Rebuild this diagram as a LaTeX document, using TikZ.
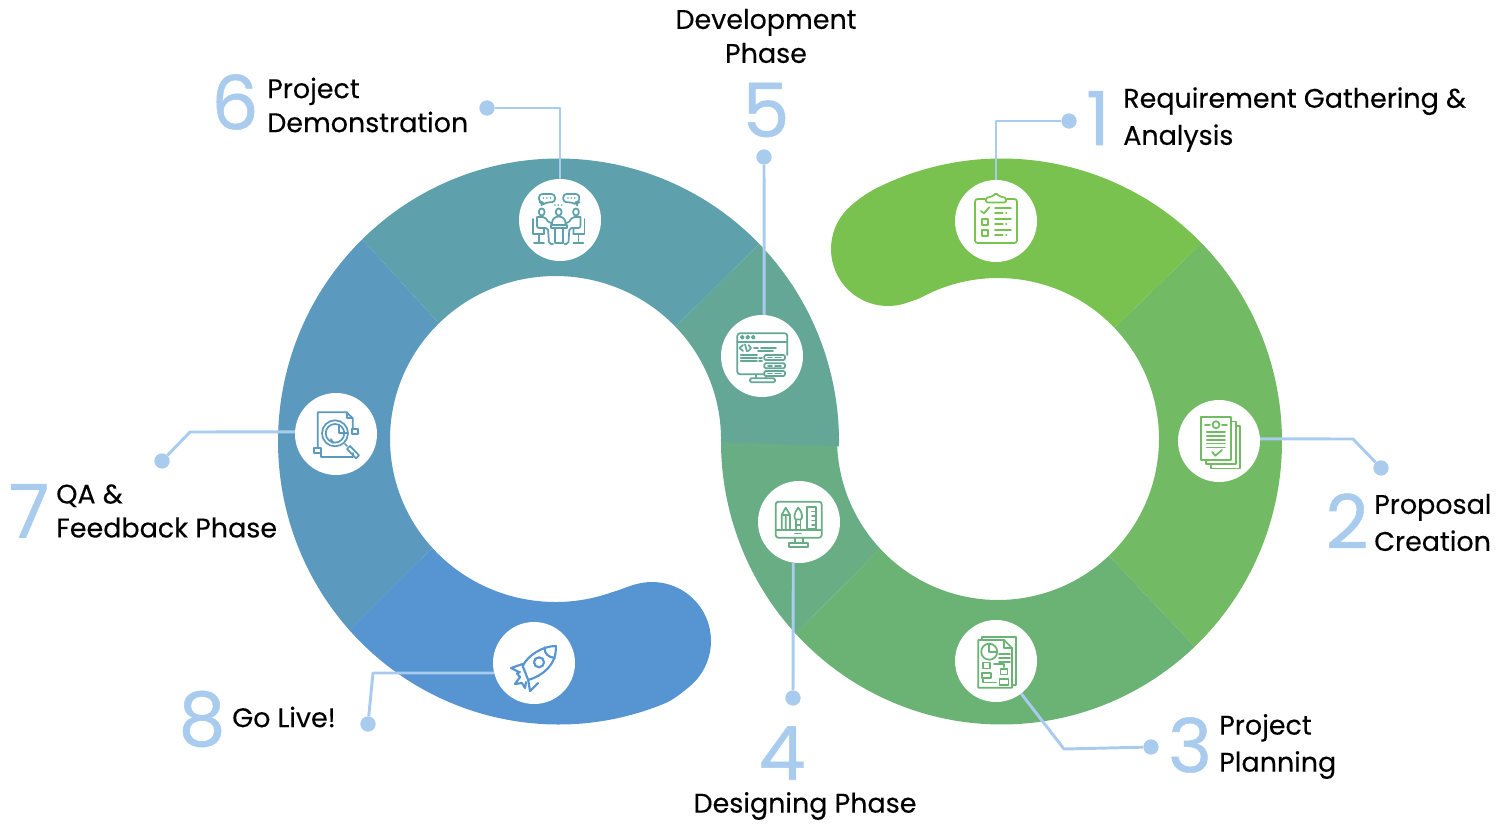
\documentclass[tikz,border=0pt]{standalone}
\usepackage{fontspec}
\setmainfont[FakeBold=0.25]{Poppins}
\newfontfamily\numfont[FakeBold=0.7]{Poppins}
\usetikzlibrary{positioning}
\definecolor{seg1}{HTML}{79C24F}
\definecolor{seg2}{HTML}{72BA64}
\definecolor{seg3}{HTML}{6BB374}
\definecolor{seg4}{HTML}{68AD84}
\definecolor{seg5}{HTML}{65A797}
\definecolor{seg6}{HTML}{5EA1AC}
\definecolor{seg7}{HTML}{5B9ABE}
\definecolor{seg8}{HTML}{5695D2}
\definecolor{linkblue}{HTML}{A9CCEE}
\tikzset{
    bubble/.style={circle, fill=white, minimum size=61.5pt, inner sep=0pt},
    dotend/.style={circle, fill=linkblue, minimum size=11.5pt, inner sep=0pt},
    link/.style={draw=linkblue, line width=2.2pt, line join=round},
    bignum/.style={text=linkblue, inner sep=0pt, font=\numfont\fontsize{56}{56}\selectfont},
    caption/.style={inner sep=0pt, anchor=west, align=left, font=\fontsize{20.2}{27.8}\selectfont},
    captionb/.style={caption, font=\fontsize{20.2}{25.5}\selectfont},
    ico/.style={line width=1.3pt, line join=round, line cap=round}
}
\begin{document}
\begin{tikzpicture}[x=0.75pt, y=0.75pt]
    \useasboundingbox (0,0) rectangle (1512,-824);
    % right ring
    \foreach \col/\a/\b/\c/\d in {seg2/44.5/-46.5/-46.5/43.7, seg3/-46.5/-137.2/-137.2/-46.5, seg4/-137.2/-180/-178/-137.2}
    {
        \fill[\col] ([shift={(1001.5,-441.5)}]\a:280.5 and 283) arc[start angle=\a, end angle=\b, x radius=280.5, y radius=283]
            -- ([shift={(998,-439)}]\c:161) arc[start angle=\c, end angle=\d, radius=161] -- cycle;
    }
    % left ring
    \foreach \col/\a/\b/\c/\d in {seg5/-1/44.3/43.6/-1, seg6/44.3/134.4/134.8/43.6, seg7/134.4/221.8/221.8/134.8}
    {
        \fill[\col] ([shift={(558.5,-441.5)}]\a:280.5 and 283) arc[start angle=\a, end angle=\b, x radius=280.5, y radius=283]
            -- ([shift={(555.5,-439)}]\c:165.5 and 163) arc[start angle=\c, end angle=\d, x radius=165.5, y radius=163] -- cycle;
    }
    % the two rounded ends
    \fill[seg1] ([shift={(1001.5,-441.5)}]44.5:280.5 and 283) arc[start angle=44.5, end angle=115, x radius=280.5, y radius=283]
        .. controls (870,-190.6) and (859,-198.6) .. ([shift={(888,-249)}]130:57) arc[start angle=130, end angle=290, radius=57]
        .. controls (912.5,-300.8) and (917.5,-299.6) .. ([shift={(998,-439)}]118:161) arc[start angle=118, end angle=43.7, radius=161] -- cycle;
    \fill[seg8] ([shift={(558.5,-441.5)}]221.8:280.5 and 283) arc[start angle=221.8, end angle=292, x radius=280.5, y radius=283]
        .. controls (673.6,-700.1) and (683.9,-691.1) .. ([shift={(652,-641)}]-50:59) arc[start angle=-50, end angle=105, radius=59]
        .. controls (628.7,-586) and (621,-589.7) .. ([shift={(555.5,-439)}]290:165.5 and 163) arc[start angle=290, end angle=221.8, x radius=165.5, y radius=163] -- cycle;

    \node[bubble] (c1) at (996,-221) {};
    \node[bubble] (c2) at (1219,-441) {};
    \node[bubble] (c3) at (996,-661) {};
    \node[bubble] (c4) at (799,-522) {};
    \node[bubble] (c5) at (762,-356) {};
    \node[bubble] (c6) at (560,-220) {};
    \node[bubble] (c7) at (336,-434) {};
    \node[bubble] (c8) at (534,-663) {};
    \node[dotend] (d1) at (1069,-121) {};
    \node[dotend] (d2) at (1381,-468) {};
    \node[dotend] (d3) at (1151,-747) {};
    \node[dotend] (d4) at (793,-698) {};
    \node[dotend] (d5) at (764,-157) {};
    \node[dotend] (d6) at (487,-108) {};
    \node[dotend] (d7) at (162,-461) {};
    \node[dotend] (d8) at (368,-724) {};
    \draw[link] (d1) -| (c1);
    \draw[link] (c2.3) -- (1353,-439) -- (d2);
    \draw[link] (c3) -- (1064,-749) -- (d3);
    \draw[link] (c4.262) -- (d4);
    \draw[link] (d5) -- (c5.87);
    \draw[link] (d6) -| (c6);
    \draw[link] (d7) -- (190,-432) -- (c7.177);
    \draw[link] (d8) -- (373,-673) -- (c8.194);

    % numbers and captions
    \node[bignum] (n1) at (1098,-118) {1};
    \node[bignum] (n2) at (1347,-521) {2};
    \node[bignum] (n3) at (1190,-745) {3};
    \node[bignum] (n4) at (782,-753) {4};
    \node[bignum] (n5) at (766,-110) {5};
    \node[bignum] (n6) at (235,-102) {6};
    \node[bignum] (n7) at (29,-511) {7};
    \node[bignum] (n8) at (202,-719) {8};
    \node[caption] (t1) at (1123,-119.5) {Requirement Gathering \&\\Analysis};
    \node[caption] (t2) at (1374,-522.5) {Proposal\\Creation};
    \node[caption] (t3) at (1219,-746.5) {Project\\Planning};
    \node[caption, anchor=center] (t4) at (805,-806) {Designing Phase};
    \node[captionb, anchor=center, align=center] (t5) at (766,-36) {Development\\Phase};
    \node[captionb] (t6) at (267,-105) {Project\\Demonstration};
    \node[captionb] (t7) at (56,-511) {QA \&\\Feedback Phase};
    \node[caption] (t8) at (232,-717) {Go Live!};

    % clipboard
    \begin{scope}[shift={(c1)}, seg1, ico]
        \draw[rounded corners=2pt] (-11,22) -- (-21,22) -- (-21,-22) -- (21,-22) -- (21,22) -- (11,22);
        \draw[rounded corners=1pt] (-10,18.5) -- (-10,23) -- (-3,25) -- (0,28) -- (3,25) -- (10,23) -- (10,18.5) -- cycle;
        \draw (-15,10) -- (-12,7.7) -- (-6.7,13.7);
        \draw (-14.3,-3.7) rectangle (-8.3,2.3);
        \draw (-14.3,-14.7) rectangle (-8.3,-8.7);
        \foreach \y in {12.7,1.7,-9} {\draw (-1,\y) -- (15,\y);}
        \foreach \y in {7.7,-3,-14} {\draw (-1,\y) -- (6.7,\y); \draw (10,\y) -- (10.5,\y);}
    \end{scope}
    % stacked documents
    \begin{scope}[shift={(c2)}, seg2, ico]
        \draw (-18,23.7) rectangle (12,-19);
        \draw (12,19.5) -- (16.7,19.5) -- (16.7,-23.3) -- (-13,-23.3) -- (-13,-19);
        \draw (16.7,15) -- (21.3,15) -- (21.3,-27.5) -- (-8,-27.5) -- (-8,-23.3);
        \draw (-3,16.3) circle (3.5);
        \draw (-14,16.3) -- (-9,16.3) (3,16.3) -- (8,16.3);
        \foreach \y in {9,5,1,-2.5,-6.5} {\draw (-12.3,\y) -- (6,\y);}
        \draw (-6.7,-11) -- (-3.7,-14.7) -- (3,-9);
    \end{scope}
    % project report
    \begin{scope}[shift={(c3)}, seg3, ico]
        \draw (-14,21) -- (-14,23.7) -- (19.7,23.7) -- (19.7,-24) -- (16,-24);
        \draw (-17.7,21) -- (8,21) -- (16,13) -- (16,-26.7) -- (-17.7,-26.7) -- cycle;
        \draw (8,21) -- (8,13) -- (16,13);
        \draw (-6.8,9.3) circle (8);
        \draw (-6.8,17.3) -- (-6.8,9.3) -- (1,9.3);
        \foreach \y in {7,3,-1} {\draw (3,\y) -- (14,\y);}
        \draw (-13,-7.5) rectangle (-6,-1.5);
        \draw (-14,-17) -- (-14,-12) -- (-5,-12) -- (-5,-17) -- cycle;
        \draw (4.5,-13.5) rectangle (11.5,-8);
        \draw (3.5,-24) -- (3.5,-18) -- (12.5,-18) -- (12.5,-24) -- cycle;
        \draw (-2,-3) -- (8,-3) -- (8,-6);
        \draw (-13,-18.5) -- (-13,-21.5) -- (0,-21.5);
    \end{scope}
    % design monitor
    \begin{scope}[shift={(c4)}, seg4, ico]
        \draw[rounded corners=2pt] (-23.3,20.3) rectangle (22.7,-15.7);
        \draw (-23.3,-8) -- (22.7,-8) (-4,-11.5) -- (2,-11.5);
        \draw (-4,-15.7) -- (-4,-21.3) (3.7,-15.7) -- (3.7,-21.3);
        \draw (-10,-21.3) rectangle (9.3,-24.7);
        \draw (-17.3,-7.3) -- (-17.3,7) -- (-13.3,14.3) -- (-9,7) -- (-9,-7.3) (-17.3,7) -- (-9,7) (-13.3,7) -- (-13.3,-7.3);
        \draw (-0.7,14.3) .. controls (-6,8) and (-5,3) .. (-3,2.5) -- (1.5,2.5) .. controls (3.5,3) and (4.5,8) .. (-0.7,14.3);
        \draw (-3,2.5) -- (-3,-7.3) (1.5,2.5) -- (1.5,-7.3) (-3,-3) -- (1.5,-3);
        \draw (8.3,14.7) rectangle (17,-7.3);
        \foreach \y in {10.5,6,1.5,-3} {\draw (13,\y) -- (17,\y);}
    \end{scope}
    % code window
    \begin{scope}[shift={(c5)}, seg5, ico]
        \draw[rounded corners=2pt] (2,-18.3) -- (-24.7,-18.3) -- (-24.7,22.7) -- (25.3,22.7) -- (25.3,1);
        \draw (-24.7,14.3) -- (25.3,14.3);
        \foreach \x in {-19.7,-14.3,-8.7} {\draw (\x,18.7) circle (1.5);}
        \draw (-19,11) -- (-22.5,8) -- (-19,5) (-13.5,11) -- (-11,8) -- (-13.5,5) (-15,4.5) -- (-17,11.5);
        \draw (-8,8) -- (-4,8) (-1,8) -- (14,8) (-4,5) -- (11,5);
        \foreach \y in {1,-1.7,-5} {\draw (-21.3,\y) -- (-5,\y);}
        \foreach \y in {-1.7,-5} {\draw (-3,\y) -- (0,\y);}
        \foreach \y in {1,-7.3,-15} {\draw[rounded corners=1pt, fill=white] (2.3,\y) rectangle (23,\y-5);
            \draw (6,\y-2.5) -- (10,\y-2.5) (13,\y-2.5) -- (19,\y-2.5);}
        \draw (-6,-18.3) -- (-6,-22.3) (4,-20) -- (4,-22.3);
        \draw[rounded corners=1pt] (-12,-22.3) rectangle (13,-26.3);
    \end{scope}
    % meeting
    \begin{scope}[shift={(c6)}, seg6, ico]
        \draw[rounded corners=2.5pt] (-21,26) -- (-5,26) -- (-5,17.7) -- (-14,17.7) -- (-18.5,14.5) -- (-17,17.7) -- (-21,17.7) -- cycle;
        \draw[rounded corners=2.5pt] (3.3,26) -- (19.3,26) -- (19.3,17.7) -- (16,17.7) -- (17,15) -- (12,17.7) -- (3.3,17.7) -- cycle;
        \foreach \x in {-16.5,-13,-9.5,8,11.3,14.7} {\fill (\x,22) circle (0.9);}
        \foreach \x in {-5,-1.7,1.7} {\fill (\x,15) circle (0.9);}
        \foreach \x in {-18.3,-1.3,16} {\draw[rounded corners=2pt] (\x-2.7,11.5) rectangle (\x+2.7,4.5);}
        \draw[rounded corners=2pt] (-8,-5) -- (-8,0) -- (-4,3.5) -- (1.5,3.5) -- (5.5,0) -- (5.5,-5);
        \draw (-9.3,-5) rectangle (6.7,-8.3);
        \draw (-5,-8.3) -- (-5,-23.3) -- (2.7,-23.3) -- (2.7,-8.3);
        \draw[rounded corners=1.5pt] (-23,3) -- (-23,-8) -- (-12,-8) -- (-11,-24) -- (-7,-24) (-23,3) -- (-15,3) -- (-11,-3) -- (-8,-3) (-16,-8) -- (-16,-14);
        \draw[rounded corners=1.5pt] (20.4,3) -- (20.4,-8) -- (9.4,-8) -- (8.4,-24) -- (4.4,-24) (20.4,3) -- (12.4,3) -- (8.4,-3) -- (5.4,-3) (13.4,-8) -- (13.4,-14);
        \draw (-27,1) -- (-27,-14) -- (-16,-14) (-21,-14) -- (-21,-22) (-26,-23) -- (-16,-23);
        \draw (24.4,1) -- (24.4,-14) -- (13.4,-14) (18.4,-14) -- (18.4,-22) (23.4,-23) -- (13.4,-23);
    \end{scope}
    % analysis page
    \begin{scope}[shift={(c7)}, seg7, ico]
        \draw (-18.3,-13) -- (-18.3,21.7) -- (10.7,21.7) -- (16.7,15.7) -- (16.7,5);
        \draw (10.7,21.7) -- (10.7,15.7) -- (16.7,15.7);
        \draw (-15,-18.7) -- (-15,-22.7) -- (16.7,-22.7) -- (16.7,-19);
        \draw (-1,0.7) circle (13) circle (9.3);
        \draw (3.3,9) -- (3.3,0.7) -- (11,0.7);
        \draw (-3,-9) -- (-5,-5);
        \draw (9,-10) -- (11,-12) (11,-15) -- (20,-24.3) -- (23,-21.3) -- (14,-12) -- cycle;
        \draw[fill=white] (15.7,4.7) rectangle (21.7,0);
        \draw[fill=white] (-22,-13.7) rectangle (-15.3,-18.7);
    \end{scope}
    % rocket
    \begin{scope}[shift={(c8)}, seg8, ico, line width=1.6pt]
        \draw (21.8,17) .. controls (9,17) and (-6,8) .. (-11.3,-3) -- (-5.8,-17) .. controls (8,-13) and (23,-2) .. (21.8,17) -- cycle;
        \draw (10.5,15.7) .. controls (10.5,9) and (14,6) .. (20.8,5);
        \draw (5,0.7) circle (5);
        \draw (-11.3,-1) -- (-23,-5) -- (-15,-9) (-5.8,-17) -- (-4,-28) -- (4,-20);
        \draw (-14,-9) -- (-17,-10.5) -- (-14,-14) -- (-19,-21) -- (-12,-20) -- (-9,-25) -- (-8,-19);
    \end{scope}
\end{tikzpicture}
\end{document}
